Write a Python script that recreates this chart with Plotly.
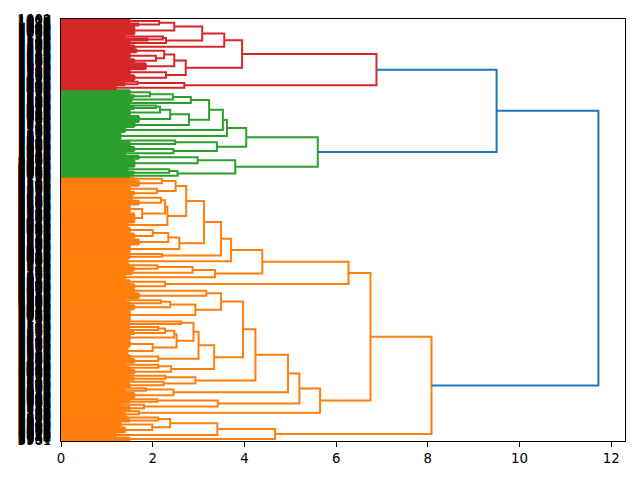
import plotly.graph_objects as go

# ---------------- data ----------------
# node  = [merge_height, upper_child, lower_child]
# twig  = (number_of_leaves, merge_height)   (a tight group of leaves)
red_tree = [6.88,
    [3.95,
        [3.56,
            [3.08,
                [2.47, [2.14, (4, 1.5), (3, 1.7)], (9, 1.6)],
                [2.29, [2.22, (3, 1.4), (3, 1.9)], (4, 1.5)]],
            (4, 1.6)],
        [2.72,
            [2.47, [2.25, (4, 1.65), [2.07, (6, 1.5), (4, 1.6)]], (7, 1.85)],
            [2.29, (5, 1.5), (6, 1.6)]]],
    [2.69, [1.67, (2, 1.2), (3, 1.4)], (4, 1.2)]]

green_tree = [5.60,
    [4.04,
        [3.62,
            [3.53,
                [3.23,
                    [2.83, [2.44, [1.94, (5, 1.5), (3, 1.6)], (4, 1.55)], (3, 1.5)],
                    [2.79, [2.38, [2.16, [2.07, (2, 1.4), (3, 1.6)], (6, 1.5)], (7, 1.7)], (5, 1.6)]],
                (5, 1.4)],
            (7, 1.3)],
        [3.40, [2.49, (2, 1.3), (5, 1.5)], [2.45, (5, 1.6), (4, 1.4)]]],
    [3.80,
        [2.98, (4, 1.7), (8, 1.6)],
        [2.54, [2.36, (4, 1.45), (3, 1.6)], (3, 1.5)]]]

orange_tree = [8.08,
    [6.75,
        [6.27,
            [4.39,
                [3.71,
                    [3.49,
                        [3.12,
                            [2.73,
                                [2.50, [2.20, (3, 1.6), (6, 1.7)], [2.09, (5, 1.5), (4, 1.6)]],
                                [2.32, [2.27, [2.18, (5, 1.55), (5, 1.7)], [1.77, (8, 1.5), (10, 1.6)]], (4, 1.45)]],
                            [2.58, [2.34, [2.0, (6, 1.5), (6, 1.6)], (6, 1.7)], (8, 1.5)]],
                        [2.21, (2, 1.4), (4, 1.5)]],
                    (5, 1.45)],
                [3.36, [2.87, [2.10, (3, 1.5), (4, 1.6)], (4, 1.55)], (5, 1.4)]],
            [2.27, (4, 1.5), (5, 1.6)]],
        [5.65,
            [5.20,
                [4.95,
                    [4.24,
                        [3.97,
                            [3.49,
                                [3.17, (4, 1.6), (6, 1.7)],
                                [2.93, [2.38, [2.18, (3, 1.4), (3, 1.5)], (5, 1.6)], (11, 1.5)]],
                            [3.34,
                                [3.00,
                                    [2.89,
                                        [2.62, (2, 1.4), (3, 1.5)],
                                        [2.52, [2.47, [2.27, [2.12, (3, 1.45), (3, 1.5)], (3, 1.6)], (6, 1.5)],
                                               [2.0, (7, 1.5), (7, 1.45)]]],
                                    [2.12, (4, 1.5), (5, 1.6)]],
                                [2.40, [2.12, (3, 1.4), (3, 1.5)], (5, 1.6)]]],
                        [2.93, [2.28, (3, 1.5), (3, 1.6)], [2.24, (3, 1.45), (4, 1.5)]]],
                    [2.45, [1.85, (2, 1.3), (3, 1.4)], (6, 1.6)]],
                [3.42, [2.10, (2, 1.4), (3, 1.5)], [1.81, (3, 1.3), (4, 1.5)]]],
            [1.70, (2, 1.2), (4, 1.4)]]],
    [4.67, [3.41, [2.38, [2.12, (3, 1.45), (3, 1.5)], [1.99, (5, 1.3), (6, 1.4)]], (4, 1.2)], (4, 1.5)]]

upper_blue_height = 9.50   # joins red and green clusters
root_height = 11.72        # joins everything with orange cluster

cluster_colors = {"red": "#d62728", "green": "#2ca02c", "orange": "#ff7f0e", "blue": "#1f77b4"}
x_ticks = [0, 2, 4, 6, 8, 10, 12]
x_max = 12.3

# ---------------- layout of dendrogram ----------------
segments = {k: ([], []) for k in cluster_colors}
leaf_pos = []
cursor = [0]


def add(color, xs, ys):
    sx, sy = segments[color]
    sx.extend(xs + [None])
    sy.extend(ys + [None])


def layout(node, color):
    if isinstance(node, tuple):
        n, h = node
        ys = [cursor[0] + i + 0.5 for i in range(n)]
        cursor[0] += n
        for y in ys:
            leaf_pos.append(y)
            add(color, [0, h], [y, y])
        add(color, [h, h], [ys[0], ys[-1]])
        return (ys[0] + ys[-1]) / 2, h
    h, a, b = node
    ya, ha = layout(a, color)
    yb, hb = layout(b, color)
    add(color, [ha, h, h, hb], [ya, ya, yb, yb])
    return (ya + yb) / 2, h


yr, hr = layout(red_tree, "red")
yg, hg = layout(green_tree, "green")
yb1 = (yr + yg) / 2
add("blue", [hr, upper_blue_height, upper_blue_height, hg], [yr, yr, yg, yg])
yo, ho = layout(orange_tree, "orange")
add("blue", [upper_blue_height, root_height, root_height, ho], [yb1, yb1, yo, yo])

n_leaves = cursor[0]
leaf_labels = [str(1000 + 7 * i) for i in range(n_leaves)]

fig = go.Figure()
for name in ["orange", "green", "red", "blue"]:
    sx, sy = segments[name]
    fig.add_trace(go.Scatter(x=sx, y=sy, mode="lines",
                             line=dict(color=cluster_colors[name], width=2),
                             hoverinfo="skip", showlegend=False))

axis_font = dict(family="DejaVu Sans", size=13.3, color="black")
fig.update_layout(
    width=640, height=480,
    margin=dict(l=61, r=15, t=17, b=39),
    paper_bgcolor="white", plot_bgcolor="white",
    xaxis=dict(range=[0, x_max], tickvals=x_ticks, ticktext=[str(v) for v in x_ticks],
               showgrid=False, zeroline=False, showline=True, mirror=True,
               linecolor="black", linewidth=1, ticks="outside", ticklen=5,
               tickwidth=1, tickcolor="black", tickfont=axis_font),
    yaxis=dict(range=[n_leaves, 0], tickmode="array", tickvals=leaf_pos, ticktext=leaf_labels,
               showgrid=False, zeroline=False, showline=True, mirror=True,
               linecolor="black", linewidth=1, ticks="", ticklabelstandoff=6,
               tickfont=axis_font),
)
fig.write_html("out.html")
